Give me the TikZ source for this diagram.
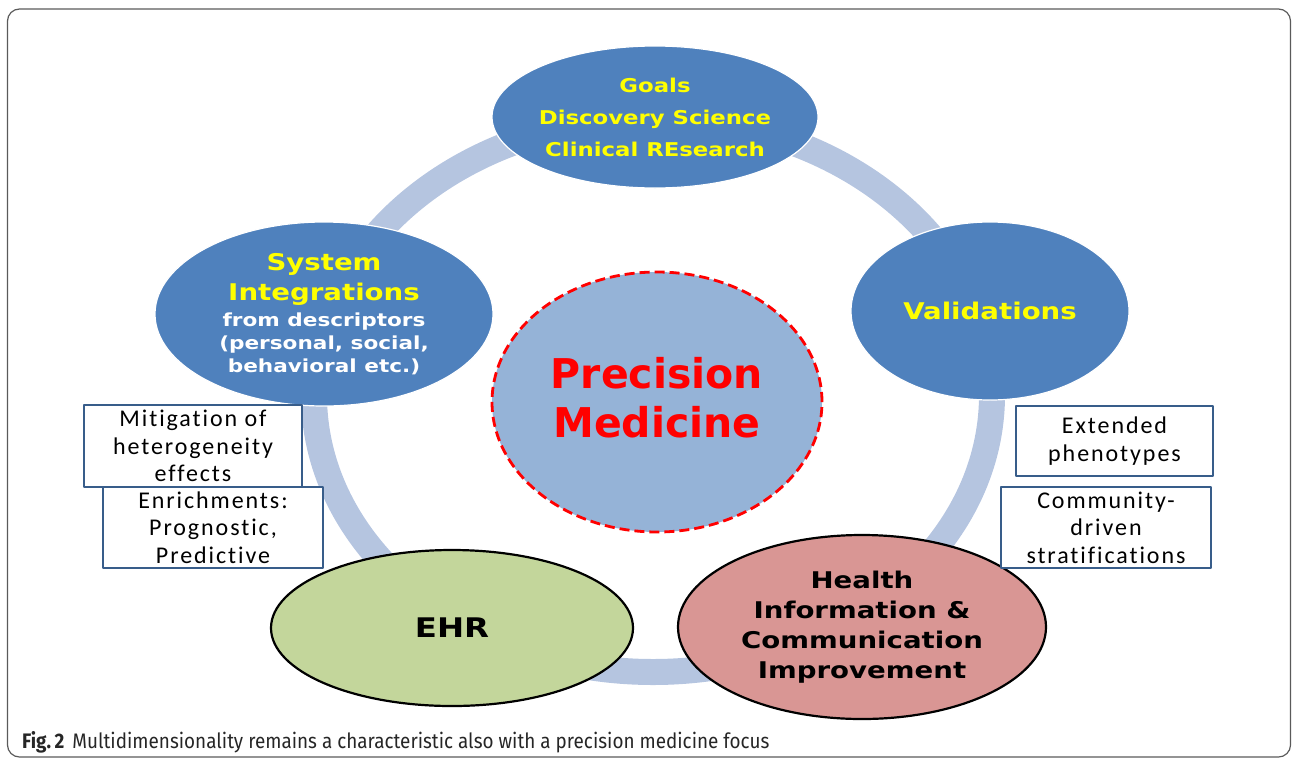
\documentclass[tikz,border=0pt]{standalone}
\usepackage{fontspec}
\usepackage{xcolor}
\usepackage{tikz}
\usetikzlibrary{shapes.geometric}
\newfontfamily\pmheavy[FakeStretch=1.2]{DejaVu Sans}
\newfontfamily\pmbold{DejaVu Sans}
\newfontfamily\pmbox[LetterSpace=8, Ligatures=NoCommon]{Carlito}
\newfontfamily\pmcap[FakeStretch=0.9]{Fira Sans}
\definecolor{pm@blue}{RGB}{79,129,189}
\definecolor{pm@ring}{RGB}{181,197,224}
\definecolor{pm@core}{RGB}{149,179,215}
\definecolor{pm@green}{RGB}{195,214,155}
\definecolor{pm@rose}{RGB}{217,150,148}
\definecolor{pm@yellow}{RGB}{255,255,0}
\definecolor{pm@red}{RGB}{255,0,0}
\definecolor{pm@edge}{RGB}{56,93,138}
\definecolor{pm@frame}{RGB}{90,90,90}
% small white lines under a yellow heading
\newcommand\pmsub{\fontsize{18}{23}\selectfont\color{white}}
\tikzset{
  pmcycle/.style={x=1pt, y=-1pt, line join=round},
  ring/.style={draw=pm@ring, line width=26pt},
  phase/.style={                   % blue stage of the cycle
    ellipse, inner sep=-12pt, align=center,
    draw=white, line width=1.2pt,
    fill=pm@blue, text=pm@yellow,
    font=\pmheavy\bfseries
  },
  outcome/.style={                 % lower stages, black outline
    ellipse, inner sep=-12pt, align=center,
    draw=black, line width=2.2pt,
    text=black, font=\pmheavy\bfseries
  },
  core/.style={                    % centre of the cycle
    ellipse, inner sep=-12pt, align=center,
    fill=pm@core, draw=pm@red, line width=2.8pt,
    dash pattern=on 10pt off 5pt,
    text=pm@red, font=\pmbold\bfseries\fontsize{41}{49}\selectfont
  },
  note/.style={                    % side remark
    rectangle, inner sep=0pt, align=center,
    draw=pm@edge, line width=2.4pt, fill=white,
    font=\pmbox\fontsize{24}{27.5}\selectfont
  },
  fcaption/.style={anchor=base west, inner sep=0pt,
    font=\pmcap\fontsize{21}{24}\selectfont, text=black!85}
}

\begin{document}
\begin{tikzpicture}[pmcycle]
\useasboundingbox (0,0) rectangle (1292,761);
% outer frame
\draw[pm@frame, line width=1.2pt, rounded corners=12pt]
  (7.5,9) rectangle (1290.5,757);

% the cycle band behind the stages
\draw[ring] (653,395) ellipse [x radius=339pt, y radius=277pt];

% upper stages
\node[phase, minimum width=326pt, minimum height=142pt,
      font=\pmheavy\bfseries\fontsize{19}{32}\selectfont] (goals) at (655,117)
  {Goals\\Discovery Science\\Clinical REsearch};
\node[phase, minimum width=338pt, minimum height=184pt,
      font=\pmheavy\bfseries\fontsize{23}{30}\selectfont] (integ) at (324,314)
  {System\\Integrations\\[-4pt]
   \pmsub from descriptors\\[-7pt]
   \pmsub (personal, social,\\[-7pt]
   \pmsub behavioral etc.)};
\node[phase, minimum width=278pt, minimum height=178pt,
      font=\pmheavy\bfseries\fontsize{23}{28}\selectfont] (valid) at (990,311)
  {Validations};

% centre (empty last line lifts the text a little)
\node[core, minimum width=330pt, minimum height=260pt] (pm) at (657,402)
  {Precision\\Medicine\\[-39pt]\mbox{}};

% lower stages
\node[outcome, fill=pm@green, minimum width=362pt, minimum height=156pt,
      font=\pmheavy\bfseries\fontsize{27}{30}\selectfont] (ehr) at (452,628)
  {EHR};
\node[outcome, fill=pm@rose, minimum width=368pt, minimum height=184pt,
      font=\pmheavy\bfseries\fontsize{23}{30}\selectfont] (hic) at (862,627)
  {Health\\Information \&\\Communication\\Improvement};

% remarks on the left
\node[note, minimum width=218pt, minimum height=82pt] (mitig) at (193,446)
  {Mitigation of\\heterogeneity\\effects};
\node[note, minimum width=220pt, minimum height=81pt] (enrich) at (213,527.5)
  {Enrichments:\\Prognostic,\\Predictive};

% remarks on the right
\node[note, minimum width=197pt, minimum height=70pt] (ext) at (1114.5,441)
  {Extended\\phenotypes};
\node[note, minimum width=210pt, minimum height=81pt] (strat) at (1106,527.5)
  {Community-\\driven\\stratifications};

\node[fcaption] (capt) at (22,748)
  {\textbf{Fig.\,2}\hspace{8pt}Multidimensionality remains a characteristic also with a precision medicine focus};
\end{tikzpicture}
\end{document}
